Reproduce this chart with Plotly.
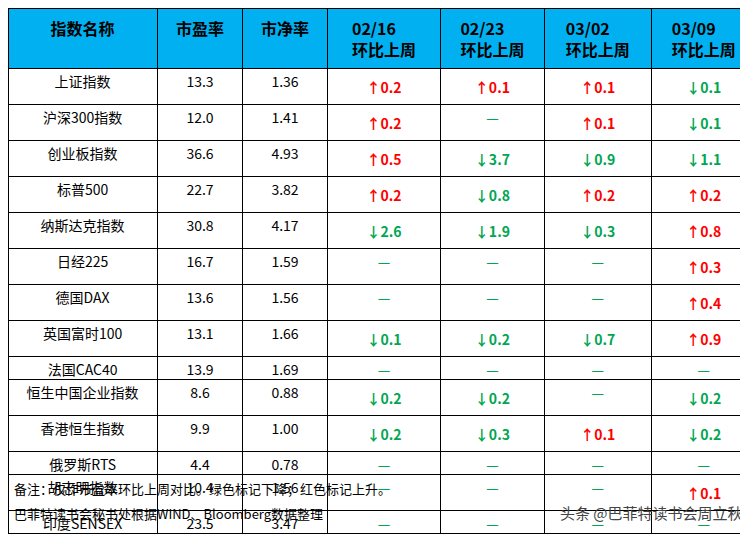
import plotly.graph_objects as go

# Table data
names = ['上证指数', '沪深300指数', '创业板指数', '标普500', '纳斯达克指数', '日经225', '德国DAX',
         '英国富时100', '法国CAC40', '恒生中国企业指数', '香港恒生指数', '俄罗斯RTS', '胡志明指数', '印度SENSEX']
pe = ['13.3', '12.0', '36.6', '22.7', '30.8', '16.7', '13.6', '13.1', '13.9', '8.6', '9.9', '4.4', '10.4', '23.5']
pb = ['1.36', '1.41', '4.93', '3.82', '4.17', '1.59', '1.56', '1.66', '1.69', '0.88', '1.00', '0.78', '1.56', '3.47']
weeks = ['02/16', '02/23', '03/02', '03/09']
# signed weekly change; None = no change
chg_0216 = [0.2, 0.2, 0.5, 0.2, -2.6, None, None, -0.1, None, -0.2, -0.2, None, None, None]
chg_0223 = [0.1, None, -3.7, -0.8, -1.9, None, None, -0.2, None, -0.2, -0.3, None, None, None]
chg_0302 = [0.1, 0.1, -0.9, 0.2, -0.3, None, None, -0.7, None, None, 0.1, None, None, None]
chg_0309 = [-0.1, -0.1, -1.1, 0.2, 0.8, 0.3, 0.4, 0.9, None, -0.2, -0.2, None, 0.1, None]

RED = '#ff0000'
GREEN = '#00a651'


def fmt(vals):
    txt, col = [], []
    for v in vals:
        if v is None:
            txt.append('—')
            col.append(GREEN)
        elif v > 0:
            txt.append('<b>↑%.1f</b>' % v)
            col.append(RED)
        else:
            txt.append('<b>↓%.1f</b>' % abs(v))
            col.append(GREEN)
    return txt, col


chg_cols = [fmt(c) for c in [chg_0216, chg_0223, chg_0302, chg_0309]]
black = ['black'] * len(names)

header = ['<b>指数名称</b>', '<b>市盈率</b>', '<b>市净率</b>'] + ['<b>%s<br>环比上周</b>' % w for w in weeks]

fig = go.Figure(go.Table(
    columnwidth=[150, 86, 85, 114, 104, 108, 105],
    header=dict(values=header, fill_color='#00b0f0', line_color='black', height=52,
                font=dict(family='Noto Sans CJK SC', size=16, color='black'), align='center'),
    cells=dict(values=[names, pe, pb] + [c[0] for c in chg_cols],
               fill_color='white', line_color='black', height=23, align='center',
               font=dict(family='Noto Sans CJK SC', size=14,
                         color=[black, black, black] + [c[1] for c in chg_cols])),
    domain=dict(x=[0, 1], y=[0, 1]),
))

fig.add_annotation(x=0.005, y=0.098, xref='paper', yref='paper', xanchor='left', showarrow=False,
                   text='备注：仅作市盈率环比上周对比。绿色标记下降；红色标记上升。',
                   font=dict(family='Noto Sans CJK SC', size=13, color='black'))
fig.add_annotation(x=0.005, y=0.052, xref='paper', yref='paper', xanchor='left', showarrow=False,
                   text='巴菲特读书会秘书处根据WIND、Bloomberg数据整理',
                   font=dict(family='Noto Sans CJK SC', size=13, color='black'))
fig.add_annotation(x=0.985, y=0.052, xref='paper', yref='paper', xanchor='right', showarrow=False,
                   text='头条 @巴菲特读书会周立秋',
                   font=dict(family='Noto Sans CJK SC', size=15, color='#444444'))

fig.update_layout(width=748, height=545, margin=dict(l=0, r=0, t=0, b=0), paper_bgcolor='white')
fig.write_html('out.html')
